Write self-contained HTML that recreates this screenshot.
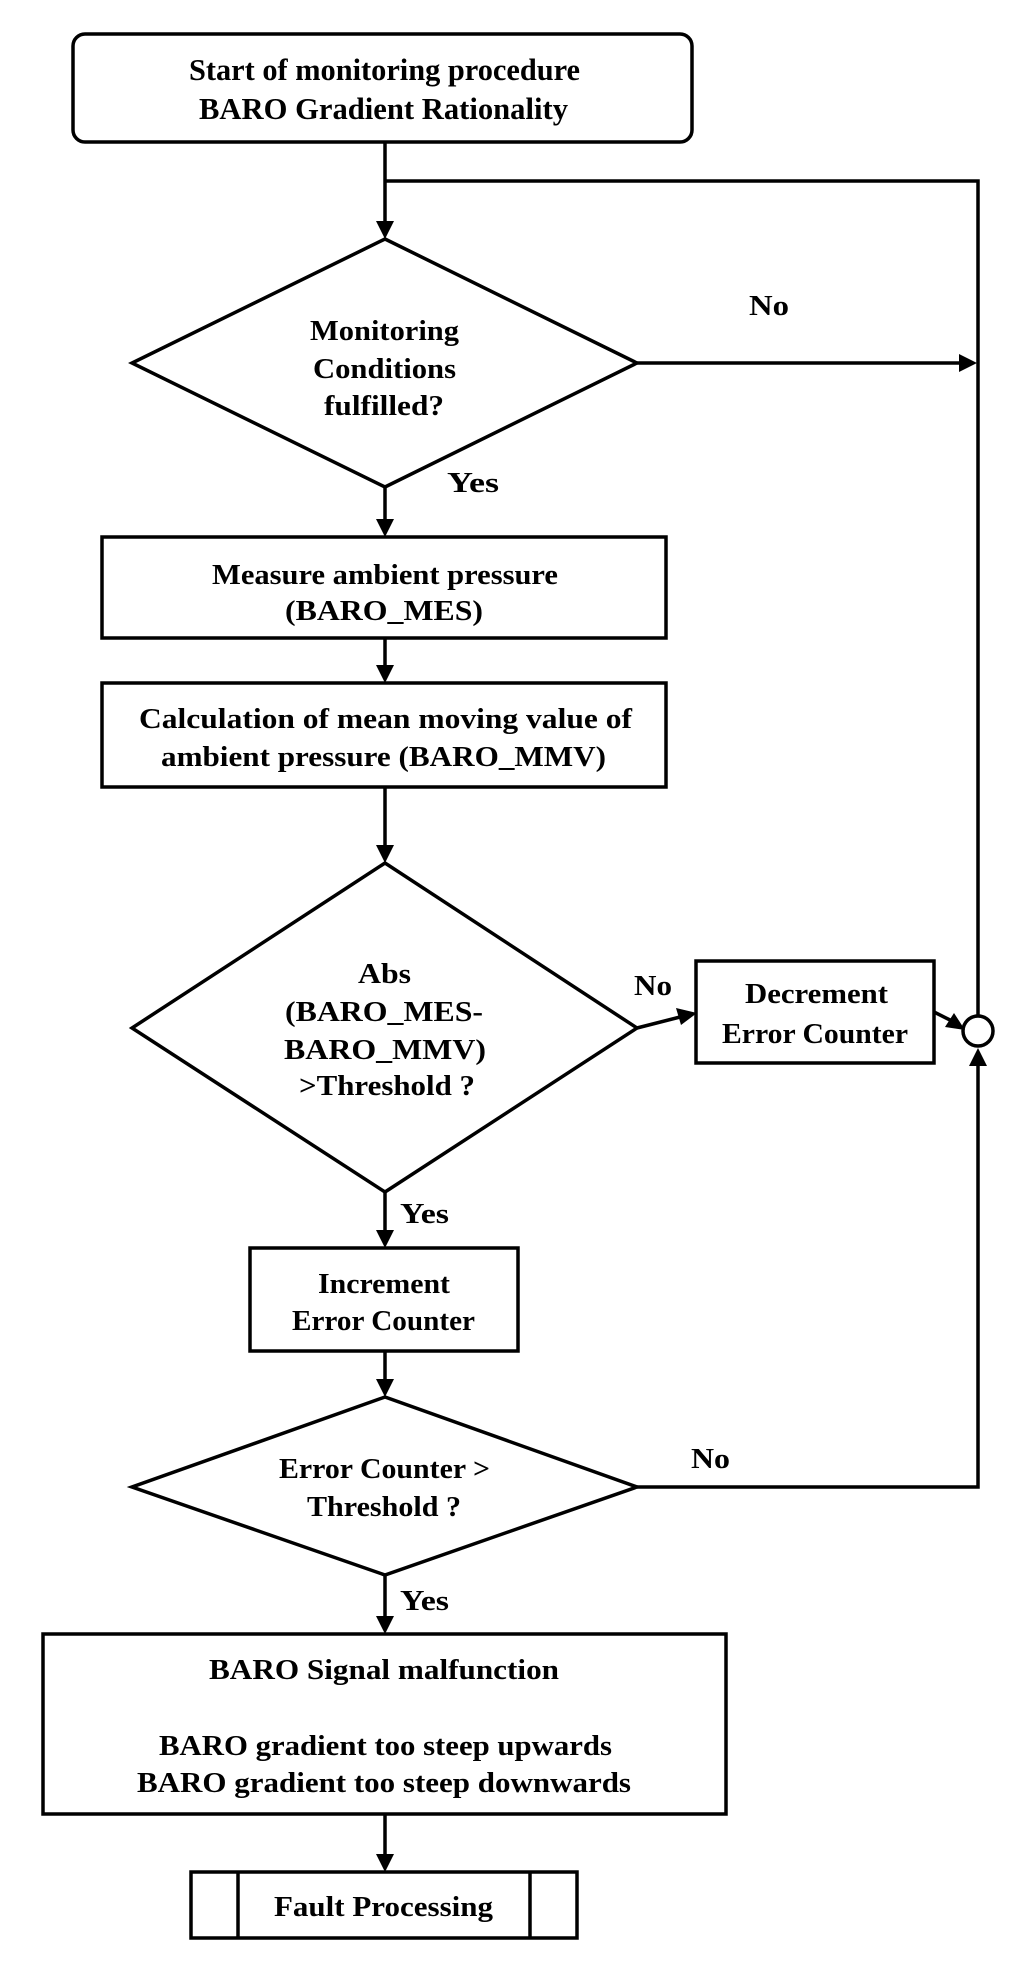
<!DOCTYPE html>
<html><head><meta charset="utf-8"><style>
html,body{margin:0;padding:0;background:#fff;}
svg{display:block;}
text{font-family:"Liberation Serif",serif;font-weight:bold;fill:#000;}
</style></head><body>
<svg width="1024" height="1980" viewBox="0 0 1024 1980" xmlns="http://www.w3.org/2000/svg">
<defs>
<marker id="a" markerWidth="10" markerHeight="10" refX="9" refY="5" orient="auto" markerUnits="userSpaceOnUse" viewBox="0 0 10 10">
</marker>
</defs>
<g fill="none" stroke="#000" stroke-width="3.5">
<rect x="73" y="34" width="619" height="108" rx="12"/>
<polygon points="385,239 637,363 385,487 132,363"/>
<rect x="102" y="537" width="564" height="101"/>
<rect x="102" y="683" width="564" height="104"/>
<polygon points="385,863 637,1028 385,1192 132,1028"/>
<rect x="696" y="961" width="238" height="102"/>
<circle cx="978" cy="1031" r="15"/>
<rect x="250" y="1248" width="268" height="103"/>
<polygon points="385,1397 637,1487 385,1575 132,1487"/>
<rect x="43" y="1634" width="683" height="180"/>
<rect x="191" y="1872" width="386" height="66"/>
<line x1="238" y1="1872" x2="238" y2="1938"/>
<line x1="530" y1="1872" x2="530" y2="1938"/>
<!-- connectors -->
<line x1="385" y1="142" x2="385" y2="222"/>
<polyline points="385,181 978,181 978,1016"/>
<line x1="637" y1="363" x2="960" y2="363"/>
<line x1="385" y1="487" x2="385" y2="520"/>
<line x1="385" y1="638" x2="385" y2="666"/>
<line x1="385" y1="787" x2="385" y2="846"/>
<line x1="637" y1="1028" x2="680" y2="1017"/>
<line x1="934" y1="1012" x2="950" y2="1020"/>
<line x1="385" y1="1192" x2="385" y2="1231"/>
<line x1="385" y1="1351" x2="385" y2="1380"/>
<polyline points="637,1487 978,1487 978,1065"/>
<line x1="385" y1="1575" x2="385" y2="1617"/>
<line x1="385" y1="1814" x2="385" y2="1855"/>
</g>
<g fill="#000" stroke="none">
<polygon points="376,221 394,221 385,239"/>
<polygon points="959,354 959,372 977,363"/>
<polygon points="376,519 394,519 385,537"/>
<polygon points="376,665 394,665 385,683"/>
<polygon points="376,845 394,845 385,863"/>
<polygon points="676,1008 681,1025 697,1013"/>
<polygon points="945,1027 954,1013 965,1030"/>
<polygon points="969,1066 987,1066 978,1048"/>
<polygon points="376,1230 394,1230 385,1248"/>
<polygon points="376,1379 394,1379 385,1397"/>
<polygon points="376,1616 394,1616 385,1634"/>
<polygon points="376,1854 394,1854 385,1872"/>
</g>
<g font-size="29">
<text x="189" y="80" textLength="391" lengthAdjust="spacingAndGlyphs" font-size="31">Start of monitoring procedure</text>
<text x="199" y="119" textLength="369" lengthAdjust="spacingAndGlyphs" font-size="31">BARO Gradient Rationality</text>
<text x="310" y="340" textLength="149" lengthAdjust="spacingAndGlyphs">Monitoring</text>
<text x="313" y="378" textLength="143" lengthAdjust="spacingAndGlyphs">Conditions</text>
<text x="324" y="415" textLength="120" lengthAdjust="spacingAndGlyphs">fulfilled?</text>
<text x="749" y="315" textLength="40" lengthAdjust="spacingAndGlyphs">No</text>
<text x="447" y="492" textLength="52" lengthAdjust="spacingAndGlyphs">Yes</text>
<text x="212" y="584" textLength="346" lengthAdjust="spacingAndGlyphs">Measure ambient pressure</text>
<text x="285" y="620" textLength="198" lengthAdjust="spacingAndGlyphs">(BARO_MES)</text>
<text x="139" y="728" textLength="493" lengthAdjust="spacingAndGlyphs">Calculation of mean moving value of</text>
<text x="161" y="766" textLength="445" lengthAdjust="spacingAndGlyphs">ambient pressure (BARO_MMV)</text>
<text x="358" y="983" textLength="53" lengthAdjust="spacingAndGlyphs">Abs</text>
<text x="285" y="1021" textLength="198" lengthAdjust="spacingAndGlyphs">(BARO_MES-</text>
<text x="284" y="1059" textLength="202" lengthAdjust="spacingAndGlyphs">BARO_MMV)</text>
<text x="299" y="1095" textLength="176" lengthAdjust="spacingAndGlyphs">&gt;Threshold ?</text>
<text x="634" y="995" textLength="38" lengthAdjust="spacingAndGlyphs">No</text>
<text x="745" y="1003" textLength="143" lengthAdjust="spacingAndGlyphs">Decrement</text>
<text x="722" y="1043" textLength="186" lengthAdjust="spacingAndGlyphs">Error Counter</text>
<text x="400" y="1223" textLength="49" lengthAdjust="spacingAndGlyphs">Yes</text>
<text x="318" y="1293" textLength="132" lengthAdjust="spacingAndGlyphs">Increment</text>
<text x="292" y="1330" textLength="183" lengthAdjust="spacingAndGlyphs">Error Counter</text>
<text x="279" y="1478" textLength="211" lengthAdjust="spacingAndGlyphs">Error Counter &gt;</text>
<text x="307" y="1516" textLength="154" lengthAdjust="spacingAndGlyphs">Threshold ?</text>
<text x="691" y="1468" textLength="39" lengthAdjust="spacingAndGlyphs">No</text>
<text x="400" y="1610" textLength="49" lengthAdjust="spacingAndGlyphs">Yes</text>
<text x="209" y="1679" textLength="350" lengthAdjust="spacingAndGlyphs">BARO Signal malfunction</text>
<text x="159" y="1755" textLength="453" lengthAdjust="spacingAndGlyphs">BARO gradient too steep upwards</text>
<text x="137" y="1792" textLength="494" lengthAdjust="spacingAndGlyphs">BARO gradient too steep downwards</text>
<text x="274" y="1916" textLength="219" lengthAdjust="spacingAndGlyphs">Fault Processing</text>
</g>
</svg>
</body></html>
